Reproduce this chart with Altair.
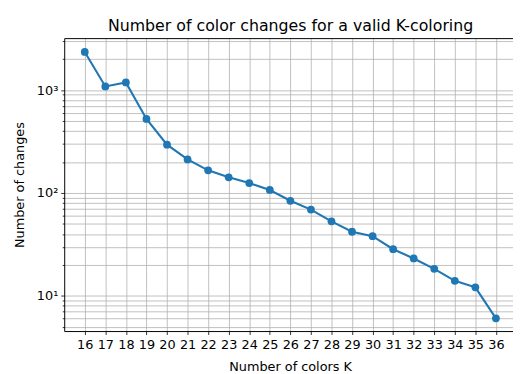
import altair as alt
import pandas as pd

colors_k = list(range(16, 37))
changes = [2350, 1085, 1186, 524, 295, 212, 166, 142, 125, 107, 84, 69, 53,
           42, 38, 28.4, 23.1, 18.3, 14.0, 12.1, 6.05]

x_ticks = list(range(16, 37))
y_ticks = [5, 6, 7, 8, 9, 10, 20, 30, 40, 50, 60, 70, 80, 90,
           100, 200, 300, 400, 500, 600, 700, 800, 900,
           1000, 2000, 3000]

df = pd.DataFrame({"K": colors_k, "changes": changes})

FONT = "DejaVu Sans"
BLUE = "#1f77b4"
GRID = "#b0b0b0"

label_expr = ("datum.value == 10 ? '10\u00b9' : datum.value == 100 ? '10\u00b2' : "
              "datum.value == 1000 ? '10\u00b3' : ''")
major_test = "datum.value == 10 || datum.value == 100 || datum.value == 1000"

x_scale = alt.Scale(domain=[15, 36.83], nice=False, zero=False)
y_scale = alt.Scale(type="log", domain=[4.55, 3200], nice=False)

base = alt.Chart(df)

line = base.mark_line(
    color=BLUE, strokeWidth=2.1,
    point=alt.OverlayMarkDef(filled=True, size=62, color=BLUE, opacity=1),
).encode(
    x=alt.X("K:Q", scale=x_scale,
            axis=alt.Axis(values=x_ticks, format="d", title="Number of colors K",
                          grid=True, gridColor=GRID, gridWidth=0.8,
                          domainColor="black", domainWidth=1,
                          tickColor="black", tickSize=3.5, tickWidth=0.8,
                          labelFont=FONT, labelFontSize=13, labelColor="black",
                          labelPadding=4, labelFlush=False, labelOverlap=False,
                          titleFont=FONT, titleFontSize=13, titleFontWeight="normal",
                          titleColor="black", titlePadding=10, titleX=229)),
    y=alt.Y("changes:Q", scale=y_scale,
            axis=alt.Axis(values=y_ticks, labelExpr=label_expr,
                          title="Number of changes",
                          grid=True, gridColor=GRID, gridWidth=0.8,
                          domainColor="black", domainWidth=1,
                          tickColor="black", tickWidth=0.8,
                          tickSize={"condition": {"test": major_test, "value": 3.5}, "value": 2},
                          labelFont=FONT, labelFontSize=13, labelColor="black",
                          labelPadding=3, labelOverlap=False, labelFlush=False,
                          titleFont=FONT, titleFontSize=13, titleFontWeight="normal",
                          titleColor="black", titleX=-38)),
)

top = base.mark_line(opacity=0).encode(
    x=alt.X("K:Q", scale=x_scale,
            axis=alt.Axis(orient="top", labels=False, ticks=False, grid=False,
                          domain=True, domainColor="black", domainWidth=1, title=None)),
    y=alt.Y("changes:Q", scale=y_scale),
)

chart = alt.layer(line, top).resolve_axis(x="independent").properties(
    width=455, height=297,
    autosize=alt.AutoSizeParams(type="none"),
    padding={"left": 57, "top": 28, "right": 0, "bottom": 41},
    title=alt.Title("Number of color changes for a valid K-coloring",
                    font=FONT, fontSize=16, fontWeight="normal", color="black",
                    anchor="middle", offset=1, dx=2),
).configure_view(stroke=None)

chart.save("out.html", embed_options={"renderer": "svg", "actions": False})
